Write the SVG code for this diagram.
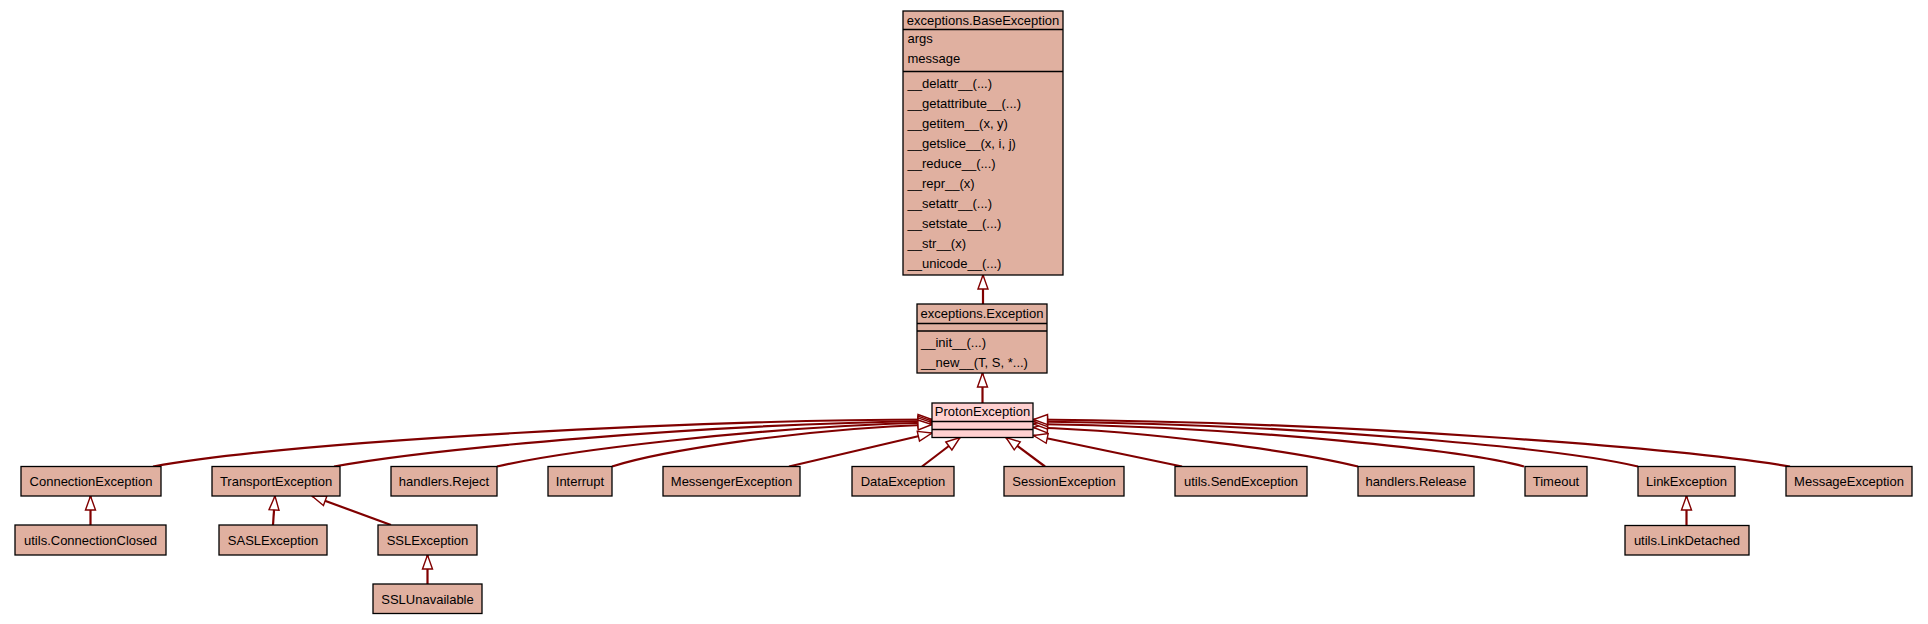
<svg xmlns="http://www.w3.org/2000/svg" width="1928" height="624" viewBox="0 0 1928 624">
<style>
text{font-family:"Liberation Sans",Arial,Helvetica,sans-serif;font-size:13px;fill:#000}
.c{text-anchor:middle}
.box{fill:#e0b0a0;stroke:#000;stroke-width:1.3}
.sel{fill:#ffd0d0;stroke:#000;stroke-width:1.3}
.sep{stroke:#000;stroke-width:1.3}
.edge{fill:none;stroke:#800000;stroke-width:2.2;marker-end:url(#inh)}
</style>
<defs>
<marker id="inh" markerUnits="userSpaceOnUse" markerWidth="18" markerHeight="14" refX="14" refY="5" orient="auto" overflow="visible">
<path d="M0,0 L14,5 L0,10 z" fill="#fff" stroke="#800000" stroke-width="1.4"/>
</marker>
</defs>
<rect width="1928" height="624" fill="#fff"/>
<g id="connectors">
<path class="edge" d="M983,304 L983,275"/>
<path class="edge" d="M982.5,403 L982.5,373"/>
<path class="edge" d="M153,466.5 C300,440 700,420 932,419.5"/>
<path class="edge" d="M334,466.5 C430,449 700,424 932,421"/>
<path class="edge" d="M497,466.5 C560,452 750,427 932,422.5"/>
<path class="edge" d="M612,466.5 C660,451 800,429 932,424.5"/>
<path class="edge" d="M789,466.5 L932,433"/>
<path class="edge" d="M922,466.5 L960,437.5"/>
<path class="edge" d="M1045,466.5 L1006,437.5"/>
<path class="edge" d="M1182,466.5 L1033.5,435.5"/>
<path class="edge" d="M1358,466.5 C1300,452 1150,431 1033.5,427.5"/>
<path class="edge" d="M1524,466.5 C1470,451 1250,427 1033.5,424"/>
<path class="edge" d="M1638,466.5 C1560,448 1300,424 1033.5,421.5"/>
<path class="edge" d="M1790,466.5 C1680,448 1350,422 1033.5,419.5"/>
<path class="edge" d="M90.5,525 L90.5,496"/>
<path class="edge" d="M273,525 L275,496"/>
<path class="edge" d="M391,525 L312,496"/>
<path class="edge" d="M427.5,584 L427.5,555"/>
<path class="edge" d="M1686.5,525.5 L1686.5,496"/>
</g>
<g id="BaseException">
<rect class="box" x="903" y="11" width="160" height="264"/>
<line class="sep" x1="903" y1="29.5" x2="1063" y2="29.5"/>
<line class="sep" x1="903" y1="71.5" x2="1063" y2="71.5"/>
<text class="c" x="983" y="24.5">exceptions.BaseException</text>
<text x="907.5" y="43">args</text>
<text x="907.5" y="63">message</text>
<text x="907.5" y="87.5">__delattr__(...)</text>
<text x="907.5" y="107.5">__getattribute__(...)</text>
<text x="907.5" y="127.5">__getitem__(x, y)</text>
<text x="907.5" y="147.5">__getslice__(x, i, j)</text>
<text x="907.5" y="167.5">__reduce__(...)</text>
<text x="907.5" y="187.5">__repr__(x)</text>
<text x="907.5" y="207.5">__setattr__(...)</text>
<text x="907.5" y="227.5">__setstate__(...)</text>
<text x="907.5" y="247.5">__str__(x)</text>
<text x="907.5" y="267.5">__unicode__(...)</text>
</g>
<g id="Exception">
<rect class="box" x="917" y="304" width="130" height="69"/>
<line class="sep" x1="917" y1="323.5" x2="1047" y2="323.5"/>
<line class="sep" x1="917" y1="331" x2="1047" y2="331"/>
<text class="c" x="982" y="318">exceptions.Exception</text>
<text x="921" y="346.5">__init__(...)</text>
<text x="921" y="366.5">__new__(T, S, *...)</text>
</g>
<g id="ProtonException">
<rect class="sel" x="932" y="403" width="101" height="34.5"/>
<line class="sep" x1="932" y1="421.5" x2="1033" y2="421.5"/>
<line class="sep" x1="932" y1="429.5" x2="1033" y2="429.5"/>
<text class="c" x="982.5" y="416">ProtonException</text>
</g>
<g id="ConnectionException"><rect class="box" x="21" y="466.5" width="140" height="29.5"/><text class="c" x="91" y="486">ConnectionException</text></g>
<g id="TransportException"><rect class="box" x="212" y="466.5" width="128" height="29.5"/><text class="c" x="276" y="486">TransportException</text></g>
<g id="handlersReject"><rect class="box" x="391" y="466.5" width="106" height="29.5"/><text class="c" x="444" y="486">handlers.Reject</text></g>
<g id="Interrupt"><rect class="box" x="548" y="466.5" width="64" height="29.5"/><text class="c" x="580" y="486">Interrupt</text></g>
<g id="MessengerException"><rect class="box" x="663" y="466.5" width="137" height="29.5"/><text class="c" x="731.5" y="486">MessengerException</text></g>
<g id="DataException"><rect class="box" x="852" y="466.5" width="102" height="29.5"/><text class="c" x="903" y="486">DataException</text></g>
<g id="SessionException"><rect class="box" x="1004" y="466.5" width="120" height="29.5"/><text class="c" x="1064" y="486">SessionException</text></g>
<g id="utilsSendException"><rect class="box" x="1175" y="466.5" width="132" height="29.5"/><text class="c" x="1241" y="486">utils.SendException</text></g>
<g id="handlersRelease"><rect class="box" x="1358" y="466.5" width="116" height="29.5"/><text class="c" x="1416" y="486">handlers.Release</text></g>
<g id="Timeout"><rect class="box" x="1525" y="466.5" width="62" height="29.5"/><text class="c" x="1556" y="486">Timeout</text></g>
<g id="LinkException"><rect class="box" x="1638" y="466.5" width="97" height="29.5"/><text class="c" x="1686.5" y="486">LinkException</text></g>
<g id="MessageException"><rect class="box" x="1786" y="466.5" width="126" height="29.5"/><text class="c" x="1849" y="486">MessageException</text></g>
<g id="utilsConnectionClosed"><rect class="box" x="15" y="525" width="151" height="30"/><text class="c" x="90.5" y="544.5">utils.ConnectionClosed</text></g>
<g id="SASLException"><rect class="box" x="219" y="525" width="108" height="30"/><text class="c" x="273" y="544.5">SASLException</text></g>
<g id="SSLException"><rect class="box" x="378" y="525" width="99" height="30"/><text class="c" x="427.5" y="544.5">SSLException</text></g>
<g id="utilsLinkDetached"><rect class="box" x="1625" y="525.5" width="124" height="29.5"/><text class="c" x="1687" y="545">utils.LinkDetached</text></g>
<g id="SSLUnavailable"><rect class="box" x="373" y="584" width="109" height="29.5"/><text class="c" x="427.5" y="603.5">SSLUnavailable</text></g>
</svg>
